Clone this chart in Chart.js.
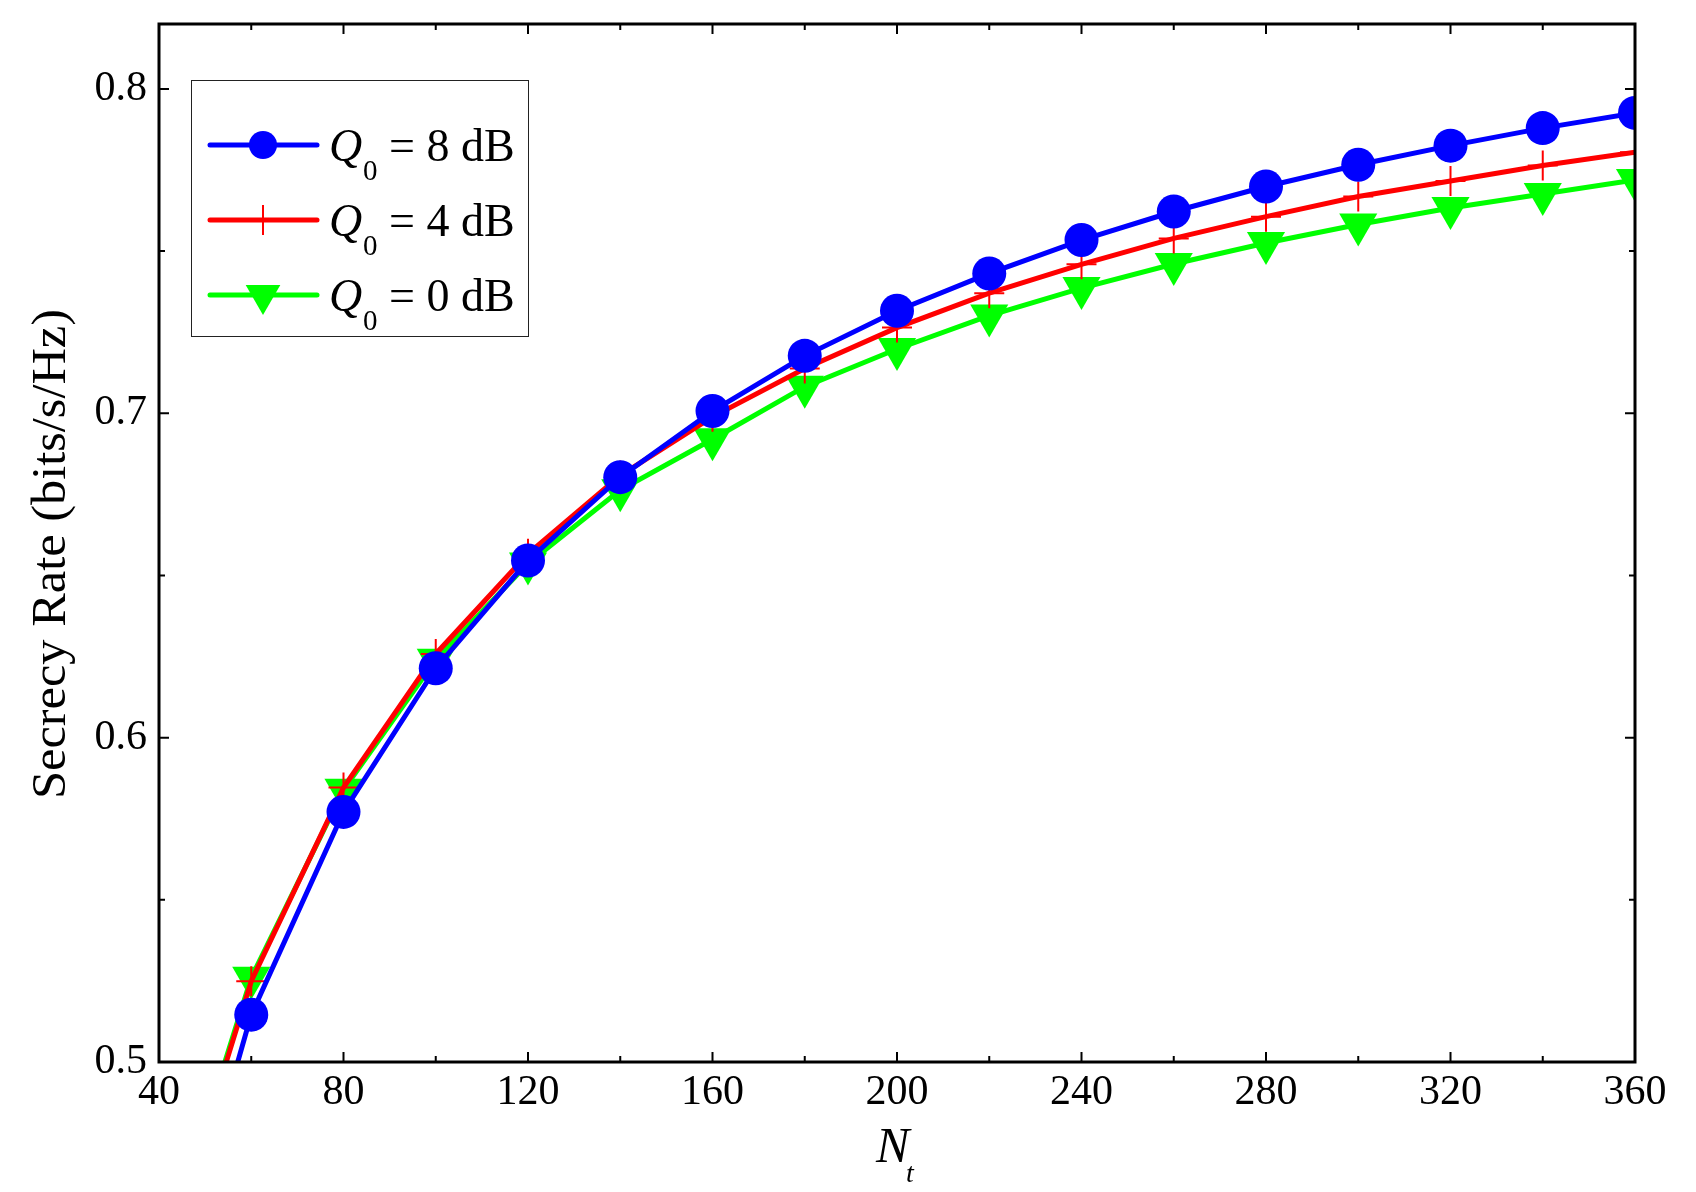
<!DOCTYPE html>
<html>
<head>
<meta charset="utf-8">
<script src="https://cdn.jsdelivr.net/npm/chart.js@4/dist/chart.umd.min.js"></script>
<style>
  html, body { margin: 0; padding: 0; background: #fff; }
  canvas { display: block; }
</style>
</head>
<body>
<canvas id="myChart" width="1696" height="1192"></canvas>
<script>
// Nt values (first point only sets the line direction below 0.5, no marker)
const nt = [40, 60, 80, 100, 120, 140, 160, 180, 200, 220, 240, 260, 280, 300, 320, 340, 360];

const rate8dB = [0.415, 0.5146, 0.5771, 0.6214, 0.6546, 0.6803, 0.7007, 0.7177, 0.7316, 0.7431, 0.7534, 0.7622, 0.7699, 0.7766, 0.7825, 0.7879, 0.7926];
const rate4dB = [0.433, 0.5249, 0.5846, 0.6258, 0.6567, 0.6808, 0.6989, 0.7138, 0.7264, 0.7370, 0.7459, 0.7539, 0.7606, 0.7668, 0.7716, 0.7764, 0.7805];
const rate0dB = [0.435, 0.5260, 0.5839, 0.6240, 0.6537, 0.6763, 0.6920, 0.7082, 0.7198, 0.7301, 0.7386, 0.7460, 0.7525, 0.7582, 0.7633, 0.7676, 0.7719];

const seriesLabels = ['8', '4', '0'];
const xTickLabels = [40, 80, 120, 160, 200, 240, 280, 320, 360];
const yTickLabels = [0.5, 0.6, 0.7, 0.8];

const SERIF = '"Liberation Serif", "Times New Roman", serif';

function toPoints(values) {
  return nt.map((x, i) => ({ x, y: values[i] }));
}

function markerSize(r) {
  return c => (nt[c.dataIndex] < 60 ? 0 : r);
}

const chartData = {
  datasets: [
    {
      label: 'Q0 = 8 dB',
      data: toPoints(rate8dB),
      borderColor: '#0000ff',
      backgroundColor: '#0000ff',
      borderWidth: 5,
      pointStyle: 'circle',
      pointRadius: markerSize(17),
      pointBorderWidth: 0,
      pointBackgroundColor: '#0000ff'
    },
    {
      label: 'Q0 = 4 dB',
      data: toPoints(rate4dB),
      borderColor: '#ff0000',
      backgroundColor: '#ff0000',
      borderWidth: 5,
      pointStyle: 'cross',
      pointRadius: markerSize(15),
      pointBorderWidth: 2,
      pointBorderColor: '#ff0000'
    },
    {
      label: 'Q0 = 0 dB',
      data: toPoints(rate0dB),
      borderColor: '#00ff00',
      backgroundColor: '#00ff00',
      borderWidth: 5,
      pointStyle: 'triangle',
      pointRotation: 180,
      pointRadius: markerSize(22),
      pointBorderWidth: 0,
      pointBackgroundColor: '#00ff00'
    }
  ]
};

function isMajor(v, step) {
  return Math.abs(v / step - Math.round(v / step)) < 1e-6;
}

// frame, inward ticks, legend and axis titles
const decorations = {
  id: 'decorations',
  afterDraw(chart) {
    const { ctx, chartArea: a, scales } = chart;
    ctx.save();

    ctx.strokeStyle = '#000';
    ctx.lineWidth = 2;
    scales.x.ticks.forEach(t => {
      const px = scales.x.getPixelForValue(t.value);
      const len = isMajor(t.value, 40) ? 10 : 6;
      ctx.beginPath();
      ctx.moveTo(px, a.bottom); ctx.lineTo(px, a.bottom - len);
      ctx.moveTo(px, a.top); ctx.lineTo(px, a.top + len);
      ctx.stroke();
    });
    scales.y.ticks.forEach(t => {
      const py = scales.y.getPixelForValue(t.value);
      const len = isMajor(t.value, 0.1) ? 10 : 6;
      ctx.beginPath();
      ctx.moveTo(a.left, py); ctx.lineTo(a.left + len, py);
      ctx.moveTo(a.right, py); ctx.lineTo(a.right - len, py);
      ctx.stroke();
    });

    ctx.lineWidth = 3;
    ctx.strokeRect(a.left, a.top, a.right - a.left, a.bottom - a.top);

    // legend
    const lx = 191.5, ly = 80.5, lw = 337, lh = 256;
    ctx.fillStyle = '#fff';
    ctx.fillRect(lx, ly, lw, lh);
    ctx.lineWidth = 1;
    ctx.strokeStyle = '#222';
    ctx.strokeRect(lx, ly, lw, lh);

    const rowY = [145, 220, 295];
    chart.data.datasets.forEach((ds, i) => {
      const y = rowY[i];
      ctx.strokeStyle = ds.borderColor;
      ctx.lineWidth = 5;
      ctx.lineCap = 'round';
      ctx.beginPath();
      ctx.moveTo(210, y); ctx.lineTo(317, y);
      ctx.stroke();
      ctx.lineCap = 'butt';
      const legendR = [14, 15, 20][i];
      ctx.fillStyle = ds.backgroundColor;
      ctx.lineWidth = 2;
      Chart.helpers.drawPoint(ctx, {
        pointStyle: ds.pointStyle,
        rotation: ds.pointRotation || 0,
        radius: legendR,
        borderWidth: ds.pointBorderWidth
      }, 263, y);

      ctx.fillStyle = '#000';
      ctx.textBaseline = 'alphabetic';
      ctx.textAlign = 'left';
      ctx.font = `italic 46px ${SERIF}`;
      ctx.fillText('Q', 329, y + 16);
      ctx.font = `29px ${SERIF}`;
      ctx.fillText('0', 363, y + 35);
      ctx.font = `46px ${SERIF}`;
      ctx.fillText(`= ${seriesLabels[i]} dB`, 389, y + 16);
    });

    // x title N_t
    ctx.fillStyle = '#000';
    ctx.font = `italic 50px ${SERIF}`;
    ctx.fillText('N', 876, 1162);
    ctx.font = `italic 28px ${SERIF}`;
    ctx.fillText('t', 906, 1182);

    // y title
    const yTitle = 'Secrecy Rate (bits/s/Hz)';
    ctx.font = `48px ${SERIF}`;
    const w = ctx.measureText(yTitle).width;
    ctx.translate(52, 554);
    ctx.rotate(-Math.PI / 2);
    ctx.scale(490 / w, 1);
    ctx.textAlign = 'center';
    ctx.textBaseline = 'middle';
    ctx.fillText(yTitle, 0, 0);

    ctx.restore();
  }
};

const ctx = document.getElementById('myChart');

const chart = new Chart(ctx, {
  type: 'line',
  data: chartData,
  plugins: [decorations],
  options: {
    responsive: false,
    animation: false,
    layout: { padding: { left: 0, top: 24, right: 61, bottom: 0 } },
    plugins: {
      legend: { display: false },
      tooltip: { enabled: false }
    },
    elements: { line: { tension: 0 } },
    scales: {
      x: {
        type: 'linear',
        min: 40,
        max: 360,
        afterFit: s => {
          s.height = 130;
          s.paddingLeft = 0; s.paddingRight = 0;
        },
        grid: { display: false, drawTicks: false },
        border: { display: false },
        ticks: {
          stepSize: 20,
          autoSkip: false,
          maxRotation: 0,
          padding: 6,
          color: '#000',
          font: { family: SERIF, size: 42 },
          callback: v => (xTickLabels.includes(v) ? String(v) : '')
        }
      },
      y: {
        type: 'linear',
        min: 0.5,
        max: 0.82,
        afterFit: s => {
          s.width = 159;
          s.paddingTop = 0; s.paddingBottom = 0;
        },
        grid: { display: false, drawTicks: false },
        border: { display: false },
        ticks: {
          stepSize: 0.05,
          includeBounds: false,
          autoSkip: false,
          padding: 12,
          color: '#000',
          font: { family: SERIF, size: 42 },
          callback: v => {
            const hit = yTickLabels.find(t => Math.abs(t - v) < 1e-6);
            return hit !== undefined ? hit.toFixed(1) : '';
          }
        }
      }
    }
  }
});
</script>
</body>
</html>
